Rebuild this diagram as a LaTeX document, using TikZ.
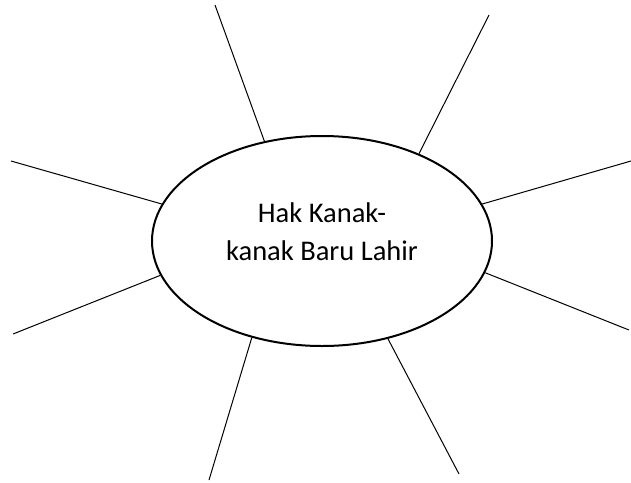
\documentclass[tikz,border=0pt]{standalone}
\usepackage{fontspec}
\setmainfont{Carlito}
\usetikzlibrary{shapes.geometric}
\begin{document}
\begin{tikzpicture}[x=1pt,y=-1pt,
  hubshape/.style={draw=black,line width=2pt,ellipse,minimum width=340pt,minimum height=210pt,inner sep=0pt},
  spoke/.style={draw=black,line width=1pt},
  title/.style={align=center,font=\fontsize{28.5}{38}\selectfont,inner sep=0pt}]
\useasboundingbox (0,0) rectangle (631,482);
\node[hubshape] (hub) at (322,241) {};
\node[title] (txt) at (322,231.5) {Hak Kanak-\\kanak Baru Lahir};
\coordinate (o1) at (215,5);
\coordinate (o2) at (489,15);
\coordinate (o3) at (11,161);
\coordinate (o4) at (631,161);
\coordinate (o5) at (13,334);
\coordinate (o6) at (629,330);
\coordinate (o7) at (209,480);
\coordinate (o8) at (459,474);
\draw[spoke] (o1) -- (hub.120.7);
\draw[spoke] (o2) -- (hub.42);
\draw[spoke] (o3) -- (hub.167.9);
\draw[spoke] (o4) -- (hub.13.7);
\draw[spoke] (o5) -- (hub.192);
\draw[spoke] (o6) -- (hub.349.8);
\draw[spoke] (o7) -- (hub.234.9);
\draw[spoke] (o8) -- (hub.304);
\end{tikzpicture}
\end{document}
